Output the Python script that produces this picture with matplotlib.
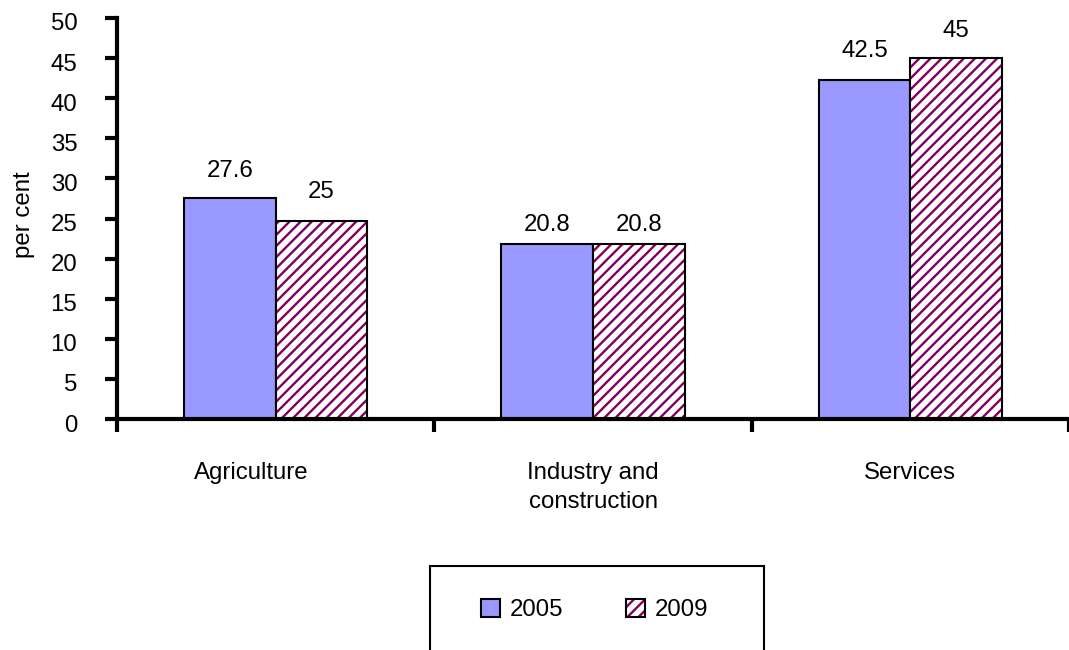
import matplotlib
matplotlib.use('Agg')
import matplotlib.pyplot as plt
import matplotlib.transforms as mtransforms
import numpy as np
from matplotlib.patches import Patch, Rectangle
from matplotlib.legend_handler import HandlerTuple

# ---- data ----
categories = ['Agriculture', 'Industry and\nconstruction', 'Services']
series_names = ['2005', '2009']
values_2005 = [27.6, 21.8, 42.3]      # bar heights as drawn
values_2009 = [24.7, 21.8, 45.0]
labels_2005 = [27.6, 20.8, 42.5]      # printed data labels
labels_2009 = [25, 20.8, 45]
yticks = [0, 5, 10, 15, 20, 25, 30, 35, 40, 45, 50]
y_label = 'per cent'

# ---- style ----
C2005 = '#9999FF'
HATCH = '#800060'
FS = 17.3
plt.rcParams['font.family'] = ['Liberation Sans', 'DejaVu Sans']
plt.rcParams['hatch.linewidth'] = 1.7

W, H = 1069, 650
fig = plt.figure(figsize=(W / 100, H / 100), dpi=100)
ax = fig.add_axes([117 / W, 1 - 419 / H, 952 / W, 401 / H])

x = np.arange(len(categories))
w = 0.2885
ax.bar(x - w / 2, values_2005, w, color=C2005, edgecolor='black', linewidth=1.5, zorder=2)
ax.bar(x + w / 2, values_2009, w, color='white', edgecolor=HATCH, hatch='///', linewidth=0, zorder=2)
ax.bar(x + w / 2, values_2009, w, fill=False, edgecolor='black', linewidth=1.5, zorder=3)

for xi, v in zip(x - w / 2, labels_2005):
    ax.annotate(f'{v:g}', (xi, v), xytext=(0, 15), textcoords='offset points',
                ha='center', va='baseline', fontsize=FS)
for xi, v in zip(x + w / 2, labels_2009):
    ax.annotate(f'{v:g}', (xi, v), xytext=(0, 15), textcoords='offset points',
                ha='center', va='baseline', fontsize=FS)

ax.set_xlim(-0.5, len(categories) - 0.5)
ax.set_ylim(yticks[0], yticks[-1])
ax.set_yticks(yticks)
ax.set_xticks(x)
ax.set_xticklabels(categories, fontsize=FS, linespacing=1.4)
ax.set_xticks(np.arange(len(categories) + 1) - 0.5, minor=True)
ax.tick_params(axis='y', length=8.6, width=3, pad=20, labelsize=FS)
ax.tick_params(axis='x', which='major', length=0, pad=31)
ax.tick_params(axis='x', which='minor', length=9.5, width=3)
for s in ['top', 'right']:
    ax.spines[s].set_visible(False)
for s in ['left', 'bottom']:
    ax.spines[s].set_linewidth(3)
    ax.spines[s].set_capstyle('projecting')

# small offsets of tick labels as in the reference
off = mtransforms.ScaledTranslation(0, -4 / 100, fig.dpi_scale_trans)
for lbl in ax.get_yticklabels():
    lbl.set_transform(lbl.get_transform() + off)
first = ax.get_xticklabels()[0]
first.set_transform(first.get_transform() + mtransforms.ScaledTranslation(-24 / 100, 0, fig.dpi_scale_trans))

fig.text(24 / W, 1 - 215 / H, y_label, rotation=90, ha='center', va='center', fontsize=FS)

handles = [Patch(facecolor=C2005, edgecolor='black', linewidth=1.5),
           (Patch(facecolor='white', edgecolor=HATCH, hatch='///', linewidth=0),
            Patch(fill=False, edgecolor='black', linewidth=1.5))]
fig.legend(handles, series_names, loc='center', bbox_to_anchor=(594.5 / W, 1 - 610 / H),
           ncol=2, frameon=False, fontsize=FS, handlelength=0.8, handleheight=0.8,
           handletextpad=0.4, columnspacing=2.6,
           handler_map={tuple: HandlerTuple(ndivide=1)})
fig.patches.append(Rectangle((429.5 / W, -0.05), (764 - 429.5) / W, 0.05 + 1 - 565.7 / H,
                             transform=fig.transFigure, fill=False, edgecolor='black',
                             linewidth=1.5))

fig.savefig('out.png', dpi=100)
